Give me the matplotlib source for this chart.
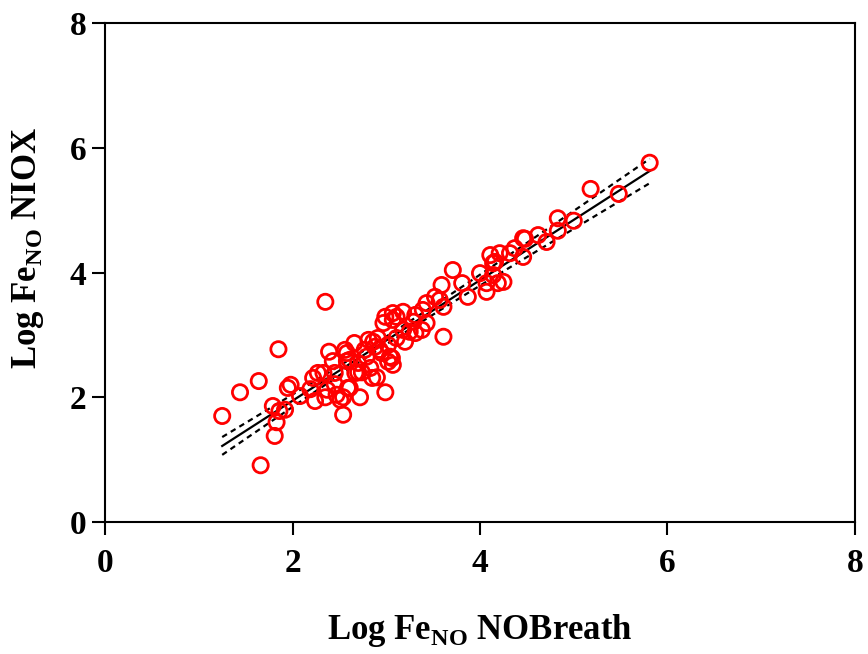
import numpy as np
import matplotlib
matplotlib.use("Agg")
import matplotlib.pyplot as plt

# Log FeNO values (NOBreath on x, NIOX on y)
nobreath = [1.25, 1.44, 1.64, 1.66, 1.79, 1.83, 1.81, 1.86, 1.85, 1.92,
            1.95, 1.98, 2.08, 2.19, 2.22, 2.24, 2.27, 2.35, 2.35, 2.33,
            2.39, 2.43, 2.45, 2.45, 2.47, 2.51, 2.54, 2.58, 2.58, 2.61,
            2.66, 2.67, 2.70, 2.72, 2.74, 2.79, 2.81, 2.83, 2.86, 2.85,
            2.90, 2.91, 2.93, 2.97, 2.99, 2.99, 3.02, 3.02, 3.06, 3.07,
            3.07, 3.11, 3.18, 3.18, 3.29, 3.31, 3.38, 3.39, 3.43, 3.43,
            3.52, 3.57, 3.59, 3.61, 3.61, 3.71, 3.81, 3.87, 4.00, 4.07,
            4.07, 4.11, 4.14, 4.14, 4.16, 4.19, 4.21, 4.25, 4.32, 4.37,
            4.46, 4.46, 4.48, 4.62, 4.71, 4.83, 4.83, 5.00, 5.18, 5.48,
            5.81, 3.31, 3.11, 3.25, 3.20, 2.77, 2.88, 2.95, 3.04, 3.07,
            2.56, 2.61, 2.70, 2.37, 2.59, 2.54]
niox = [1.70, 2.08, 2.26, 0.91, 1.86, 1.60, 1.38, 1.78, 2.77, 1.80,
        2.15, 2.20, 2.02, 2.13, 2.31, 1.94, 2.39, 3.53, 2.00, 2.39,
        2.73, 2.58, 2.39, 2.21, 2.04, 1.96, 1.72, 2.71, 2.58, 2.15,
        2.87, 2.39, 2.55, 2.00, 2.40, 2.65, 2.92, 2.47, 2.89, 2.31,
        2.32, 2.95, 2.76, 3.19, 3.29, 2.08, 2.84, 2.57, 2.63, 3.35,
        3.24, 2.95, 3.37, 3.08, 3.21, 3.03, 3.08, 3.40, 3.19, 3.51,
        3.61, 3.56, 3.80, 3.45, 2.97, 4.04, 3.83, 3.61, 3.99, 3.83,
        3.69, 4.28, 4.15, 3.96, 4.17, 3.83, 4.31, 3.85, 4.31, 4.39,
        4.55, 4.25, 4.54, 4.60, 4.49, 4.87, 4.67, 4.83, 5.34, 5.26,
        5.76, 3.32, 3.29, 3.05, 2.89, 2.76, 2.81, 2.71, 2.65, 2.52,
        2.76, 2.60, 2.40, 2.12, 2.15, 2.00]

x_ticks = [0, 2, 4, 6, 8]
y_ticks = [0, 2, 4, 6, 8]

plt.rcParams['font.family'] = ['Liberation Serif', 'DejaVu Serif']
plt.rcParams['font.weight'] = 'bold'
plt.rcParams['mathtext.fontset'] = 'custom'
plt.rcParams['mathtext.rm'] = 'Liberation Serif:bold'
plt.rcParams['mathtext.bf'] = 'Liberation Serif:bold'

x = np.array(nobreath)
y = np.array(niox)

# linear regression with 95% confidence band
slope, intercept = np.polyfit(x, y, 1)
n = len(x)
resid = y - (slope * x + intercept)
s = np.sqrt(np.sum(resid ** 2) / (n - 2))
sxx = np.sum((x - x.mean()) ** 2)
xf = np.linspace(x.min(), x.max(), 100)
yf = slope * xf + intercept
ci = 1.98 * s * np.sqrt(1.0 / n + (xf - x.mean()) ** 2 / sxx)

fig = plt.figure(figsize=(8.68, 6.54), dpi=100)
ax = fig.add_axes([0.121, 0.2018, 0.864, 0.763])

ax.plot(xf, yf, color='black', lw=1.6, zorder=2)
ax.plot(xf, yf + ci, color='black', lw=1.6, ls=(0, (2.5, 2)), zorder=2)
ax.plot(xf, yf - ci, color='black', lw=1.6, ls=(0, (2.5, 2)), zorder=2)
ax.scatter(x, y, s=120, facecolors='none', edgecolors='#ff0000', linewidths=2.0, zorder=3)

ax.set_xlim(0, 8)
ax.set_ylim(0, 8)
ax.set_xticks(x_ticks)
ax.set_yticks(y_ticks)
ax.tick_params(direction='out', length=9.5, width=1.5, labelsize=24)
ax.tick_params(axis='x', pad=9)
ax.tick_params(axis='y', pad=4)
for sp in ax.spines.values():
    sp.set_linewidth(1.5)

ax.set_xlabel(r'Log Fe$_{\rm NO}$ NOBreath', fontsize=25, fontweight='bold')
ax.set_ylabel(r'Log Fe$_{\rm NO}$ NIOX', fontsize=25, fontweight='bold')
ax.xaxis.set_label_coords(0.5, -0.18)
ax.yaxis.set_label_coords(-0.079, 0.549)

fig.savefig('out.png', dpi=100)
